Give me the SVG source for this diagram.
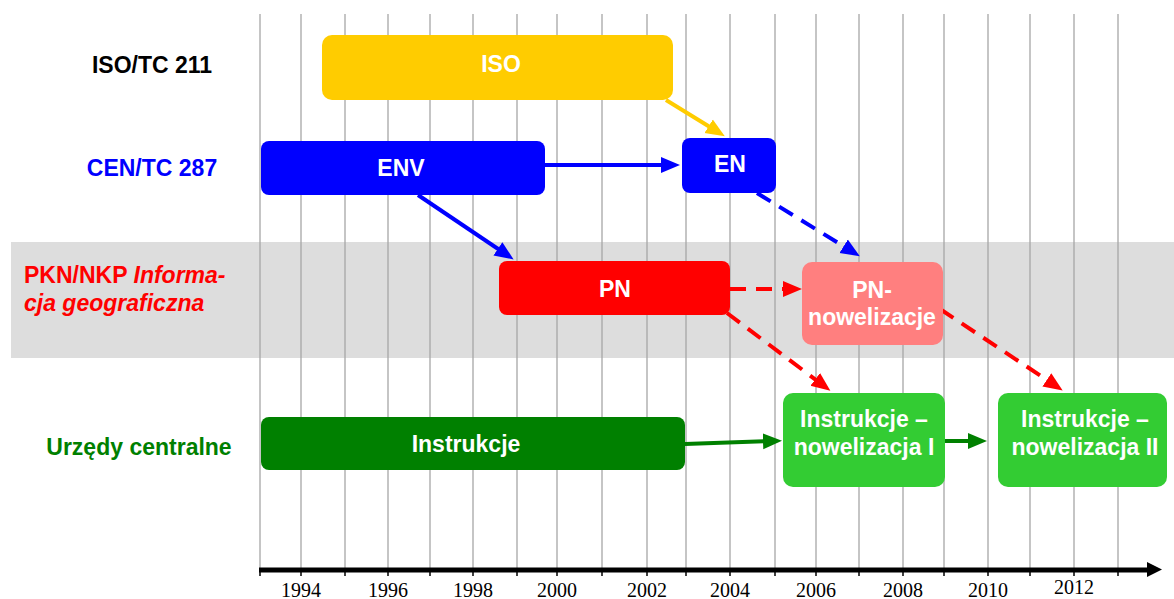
<svg xmlns="http://www.w3.org/2000/svg" width="1174" height="599" viewBox="0 0 1174 599">
<style>
.lbl{font-family:"Liberation Sans",Arial,sans-serif;font-weight:bold;font-size:23px;text-anchor:middle}
.lft{text-anchor:start}
.bt{font-family:"Liberation Sans",Arial,sans-serif;font-weight:bold;font-size:23px;fill:#fff;text-anchor:middle}
.yr{font-family:"Liberation Serif","Times New Roman",serif;font-size:20px;fill:#000;text-anchor:middle}
.grid line{stroke:#a6a6a6;stroke-width:1.3}
.c{fill:none;stroke-width:4}
.dash{stroke-dasharray:16 10}
</style>
<defs>
<marker id="aY" markerUnits="userSpaceOnUse" markerWidth="20" markerHeight="18" refX="11" refY="9" orient="auto"><path d="M0,1 L19,9 L0,17 z" fill="#FFCC00"/></marker>
<marker id="aB" markerUnits="userSpaceOnUse" markerWidth="20" markerHeight="18" refX="11" refY="9" orient="auto"><path d="M0,1 L19,9 L0,17 z" fill="#0000FF"/></marker>
<marker id="aR" markerUnits="userSpaceOnUse" markerWidth="20" markerHeight="18" refX="11" refY="9" orient="auto"><path d="M0,1 L19,9 L0,17 z" fill="#FF0000"/></marker>
<marker id="aG" markerUnits="userSpaceOnUse" markerWidth="20" markerHeight="18" refX="11" refY="9" orient="auto"><path d="M0,1 L19,9 L0,17 z" fill="#008000"/></marker>
</defs>
<rect width="1174" height="599" fill="#fff"/>
<rect id="band" x="11" y="242" width="1163" height="116" fill="#DDDDDD"/>
<g class="grid">
<line x1="260" y1="14" x2="260" y2="570"/>
<line x1="301" y1="14" x2="301" y2="570"/>
<line x1="345" y1="14" x2="345" y2="570"/>
<line x1="388" y1="14" x2="388" y2="570"/>
<line x1="430" y1="14" x2="430" y2="570"/>
<line x1="473" y1="14" x2="473" y2="570"/>
<line x1="517" y1="14" x2="517" y2="570"/>
<line x1="557" y1="14" x2="557" y2="570"/>
<line x1="602" y1="14" x2="602" y2="570"/>
<line x1="647" y1="14" x2="647" y2="570"/>
<line x1="686" y1="14" x2="686" y2="570"/>
<line x1="730" y1="14" x2="730" y2="570"/>
<line x1="775" y1="14" x2="775" y2="570"/>
<line x1="816" y1="14" x2="816" y2="570"/>
<line x1="859" y1="14" x2="859" y2="570"/>
<line x1="903" y1="14" x2="903" y2="570"/>
<line x1="944" y1="14" x2="944" y2="570"/>
<line x1="988" y1="14" x2="988" y2="570"/>
<line x1="1030" y1="14" x2="1030" y2="570"/>
<line x1="1074" y1="14" x2="1074" y2="570"/>
<line x1="1118" y1="14" x2="1118" y2="570"/>
</g>
<g id="axis">
<line x1="259" y1="570" x2="1150" y2="570" stroke="#000" stroke-width="5"/>
<path d="M1147,562 L1162,569.5 L1147,577 z" fill="#000"/>
<g stroke="#000" stroke-width="1.5">
<line x1="260" y1="570" x2="260" y2="576"/><line x1="301" y1="570" x2="301" y2="576"/><line x1="345" y1="570" x2="345" y2="576"/><line x1="388" y1="570" x2="388" y2="576"/><line x1="430" y1="570" x2="430" y2="576"/><line x1="473" y1="570" x2="473" y2="576"/><line x1="517" y1="570" x2="517" y2="576"/><line x1="557" y1="570" x2="557" y2="576"/><line x1="602" y1="570" x2="602" y2="576"/><line x1="647" y1="570" x2="647" y2="576"/><line x1="686" y1="570" x2="686" y2="576"/><line x1="730" y1="570" x2="730" y2="576"/><line x1="775" y1="570" x2="775" y2="576"/><line x1="816" y1="570" x2="816" y2="576"/><line x1="859" y1="570" x2="859" y2="576"/><line x1="903" y1="570" x2="903" y2="576"/><line x1="944" y1="570" x2="944" y2="576"/><line x1="988" y1="570" x2="988" y2="576"/><line x1="1030" y1="570" x2="1030" y2="576"/><line x1="1074" y1="570" x2="1074" y2="576"/><line x1="1118" y1="570" x2="1118" y2="576"/>
</g>
<text class="yr" x="301" y="597">1994</text>
<text class="yr" x="388" y="597">1996</text>
<text class="yr" x="473" y="597">1998</text>
<text class="yr" x="557" y="597">2000</text>
<text class="yr" x="647" y="597">2002</text>
<text class="yr" x="730" y="597">2004</text>
<text class="yr" x="816" y="597">2006</text>
<text class="yr" x="903" y="597">2008</text>
<text class="yr" x="988" y="597">2010</text>
<text class="yr" x="1074" y="594">2012</text>
</g>
<g id="labels">
<text class="lbl" x="152" y="73" fill="#000">ISO/TC 211</text>
<text class="lbl" x="152" y="176" fill="#0000FF">CEN/TC 287</text>
<text class="lbl lft" x="24" y="283" fill="#FF0000">PKN/NKP <tspan font-style="italic">Informa-</tspan></text>
<text class="lbl lft" x="24" y="311" fill="#FF0000" font-style="italic">cja geograficzna</text>
<text class="lbl" x="139" y="455" fill="#008000">Urzędy centralne</text>
</g>
<g id="connectors">
<line class="c" x1="666" y1="100" x2="718" y2="132" stroke="#FFCC00" marker-end="url(#aY)"/>
<line class="c" x1="545" y1="165" x2="672" y2="165" stroke="#0000FF" marker-end="url(#aB)"/>
<line class="c" x1="418" y1="195" x2="507" y2="255" stroke="#0000FF" marker-end="url(#aB)"/>
<line class="c dash" x1="757" y1="193" x2="853" y2="252" stroke="#0000FF" marker-end="url(#aB)"/>
<line class="c dash" x1="730" y1="289" x2="794" y2="289" stroke="#FF0000" marker-end="url(#aR)"/>
<line class="c dash" x1="727" y1="313" x2="824" y2="386" stroke="#FF0000" marker-end="url(#aR)"/>
<line class="c dash" x1="940" y1="309" x2="1056" y2="386" stroke="#FF0000" marker-end="url(#aR)"/>
<line class="c" x1="685" y1="444" x2="774" y2="441" stroke="#008000" marker-end="url(#aG)"/>
<line class="c" x1="945" y1="441" x2="979" y2="441" stroke="#008000" marker-end="url(#aG)"/>
</g>
<g id="n-iso"><rect x="322" y="35" width="351" height="65" rx="10" fill="#FFCC00"/><text class="bt" x="501" y="72">ISO</text></g>
<g id="n-env"><rect x="261" y="141" width="284" height="54" rx="8" fill="#0000FF"/><text class="bt" x="401" y="176">ENV</text></g>
<g id="n-en"><rect x="682" y="138" width="94" height="55" rx="8" fill="#0000FF"/><text class="bt" x="730" y="172">EN</text></g>
<g id="n-pn"><rect x="499" y="261" width="231" height="54" rx="8" fill="#FF0000"/><text class="bt" x="615" y="297">PN</text></g>
<g id="n-pnnow"><rect x="802" y="262" width="141" height="83" rx="10" fill="#FF7F7F"/><text class="bt" x="872" y="298">PN-</text><text class="bt" x="872" y="325">nowelizacje</text></g>
<g id="n-instr"><rect x="261" y="417" width="424" height="53" rx="8" fill="#008000"/><text class="bt" x="466" y="452">Instrukcje</text></g>
<g id="n-instr1"><rect x="783" y="393" width="162" height="94" rx="10" fill="#33CC33"/><text class="bt" x="864" y="427">Instrukcje –</text><text class="bt" x="864" y="455">nowelizacja I</text></g>
<g id="n-instr2"><rect x="998" y="393" width="169" height="94" rx="10" fill="#33CC33"/><text class="bt" x="1085" y="427">Instrukcje –</text><text class="bt" x="1085" y="455">nowelizacja II</text></g>
</svg>
